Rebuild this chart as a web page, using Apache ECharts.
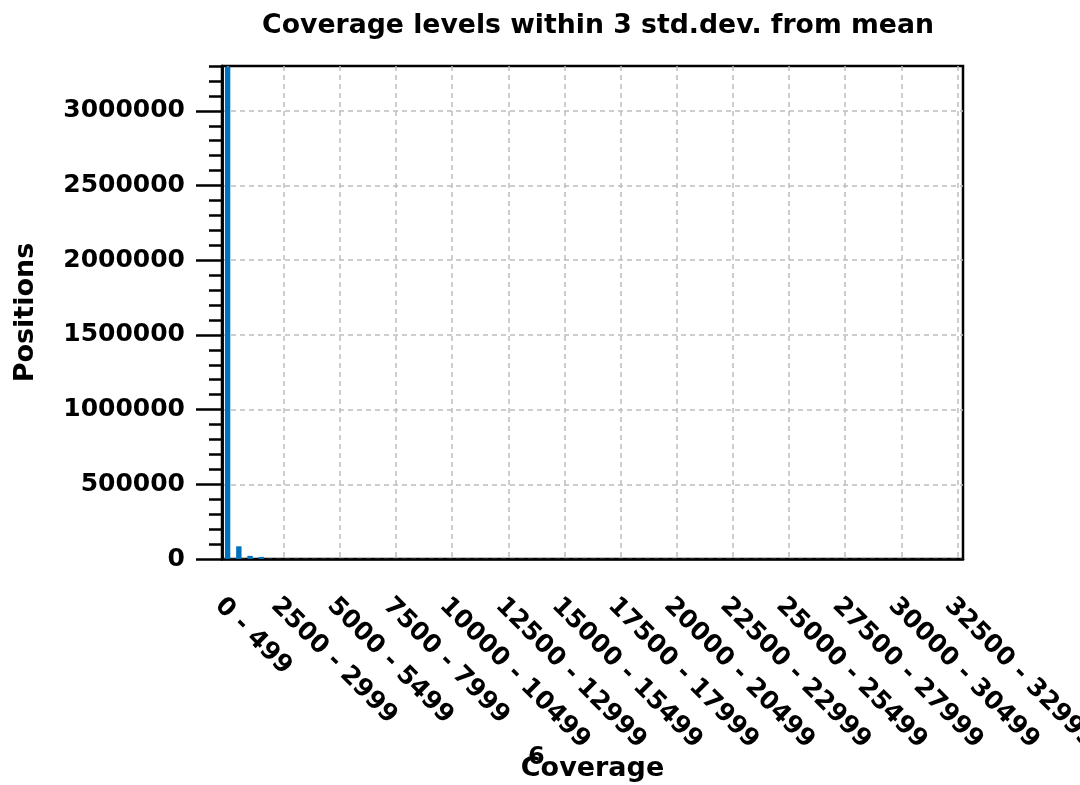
<!DOCTYPE html>
<html>
<head>
<meta charset="utf-8">
<script src="https://cdn.jsdelivr.net/npm/echarts@6/dist/echarts.min.js"></script>
<style>
  html, body { margin: 0; padding: 0; background: #fff; }
  #chart { width: 1080px; height: 785px; }
</style>
</head>
<body>
<div id="chart"></div>
<script>
// coverage bins, 500 wide
const binStarts = [];
for (let i = 0; i < 66; i++) binStarts.push(i * 500);
const categories = binStarts.map(s => s + ' - ' + (s + 499));

// positions per bin (tail is too small to see)
const positions = [
  3295000, 85000, 21000, 14000, 0, 0, 0, 0, 0, 0,
  0, 0, 0, 0, 0, 0, 0, 0, 0, 0,
  0, 0, 0, 0, 0, 0, 0, 0, 0, 0,
  0, 0, 0, 0, 0, 0, 0, 0, 0, 0,
  0, 0, 0, 0, 0, 0, 0, 0, 0, 0,
  0, 0, 0, 0, 0, 0, 0, 0, 0, 0,
  0, 0, 0, 0, 0, 0
];

const yMajorTicks = [0, 500000, 1000000, 1500000, 2000000, 2500000, 3000000];

const font = 'DejaVu Sans';
const chart = echarts.init(document.getElementById('chart'));

chart.setOption({
  animation: false,
  backgroundColor: '#fff',
  title: {
    text: 'Coverage levels within 3 std.dev. from mean',
    left: 593,
    textAlign: 'center',
    top: 8,
    textStyle: { fontFamily: font, fontWeight: 'bold', fontSize: 26.7, color: '#000' }
  },
  grid: {
    left: 222, right: 117, top: 66, bottom: 226,
    outerBoundsMode: 'none',
    containLabel: false,
    show: true, borderColor: '#000', borderWidth: 2.5, backgroundColor: 'transparent'
  },
  xAxis: {
    type: 'category',
    data: categories,
    name: 'Coverage',
    nameLocation: 'middle',
    nameGap: 196,
    nameMoveOverlap: false,
    nameTextStyle: { fontFamily: font, fontWeight: 'bold', fontSize: 27, color: '#000' },
    axisLine: { lineStyle: { color: '#000', width: 2.5 } },
    axisTick: { show: false },
    axisLabel: {
      interval: 4,
      rotate: -45,
      margin: 34,
      verticalAlign: 'top',
      fontFamily: font, fontWeight: 'bold', fontSize: 25, color: '#000'
    },
    splitLine: {
      show: true,
      interval: 4,
      alignWithLabel: true,
      lineStyle: { color: '#bdbdbd', width: 1.5, type: [5, 4] }
    }
  },
  yAxis: [
    {
      type: 'value',
      min: 0, max: 3300000, interval: 100000,
      axisLine: { show: true, lineStyle: { color: '#000', width: 2.5 } },
      axisTick: { show: true, length: 13, lineStyle: { color: '#000', width: 2.5 } },
      axisLabel: { show: false },
      splitLine: { show: false }
    },
    {
      type: 'value',
      position: 'left',
      min: 0, max: 3300000, interval: 500000,
      name: 'Positions',
      nameLocation: 'middle',
      nameGap: 183,
      nameTextStyle: { fontFamily: font, fontWeight: 'bold', fontSize: 27, color: '#000' },
      axisLine: { show: true, lineStyle: { color: '#000', width: 2.5 } },
      axisTick: { show: true, length: 26, customValues: yMajorTicks, lineStyle: { color: '#000', width: 2.5 } },
      axisLabel: {
        customValues: yMajorTicks,
        formatter: v => String(v),
        margin: 37,
        fontFamily: font, fontWeight: 'bold', fontSize: 25, color: '#000'
      },
      splitLine: { show: true, lineStyle: { color: '#bdbdbd', width: 1.5, type: [5, 4] } }
    }
  ],
  graphic: [
    {
      type: 'text', left: 528, top: 746, z: -1,
      style: { text: '6', fontFamily: font, fontWeight: 'bold', fontSize: 24, fill: '#000' }
    }
  ],
  series: [{
    type: 'bar',
    data: positions,
    yAxisIndex: 0,
    barCategoryGap: '52%',
    itemStyle: { color: '#0072BD' }
  }]
});
</script>
</body>
</html>
